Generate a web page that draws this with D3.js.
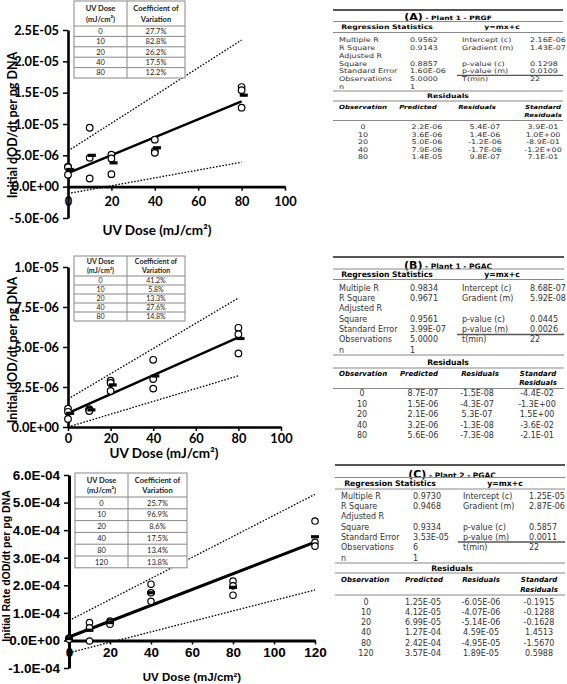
<!DOCTYPE html>
<html><head><meta charset="utf-8">
<script src="https://cdn.jsdelivr.net/npm/d3@7"></script>
<style>body{margin:0;background:#fff} svg{display:block}</style>
</head><body>
<svg id="c" width="567" height="684"></svg>
<script>
// ---------- DATA ----------
// Chart A : Plant 1 - PRGF
const doseA = [0, 10, 20, 40, 80];
const rep1A = [3.2e-6, 9.4e-6, 5.1e-6, 7.5e-6, 15.9e-6];
const rep2A = [3.1e-6, 4.6e-6, 4.5e-6, 5.7e-6, 15.4e-6];
const rep3A = [1.9e-6, 1.3e-6, 2.0e-6, 5.4e-6, 12.6e-6];
const meanA = [2.74e-6, 5.0e-6, 3.8e-6, 6.2e-6, 14.6e-6];
const ciUpperA = [5.7e-6, 23.4e-6];   // at dose 0 and 80
const ciLowerA = [-1.1e-6, 3.9e-6];
const cvA = ["27.7%", "82.8%", "26.2%", "17.5%", "12.2%"];
const yTicksA = [-5e-6, 0, 5e-6, 1e-5, 1.5e-5, 2e-5, 2.5e-5];
const xTicksA = [0, 20, 40, 60, 80, 100];

// Chart B : Plant 1 - PGAC
const doseB = [0, 10, 20, 40, 80];
const rep1B = [1.15e-6, 1.12e-6, 2.9e-6, 4.2e-6, 6.2e-6];
const rep2B = [0.95e-6, 1.05e-6, 2.75e-6, 3.0e-6, 5.8e-6];
const rep3B = [0.5e-6, 1.0e-6, 2.25e-6, 2.4e-6, 4.6e-6];
const meanB = [0.855e-6, 1.07e-6, 2.63e-6, 3.19e-6, 5.53e-6];
const ciUpperB = [1.75e-6, 8.06e-6];
const ciLowerB = [0, 3.2e-6];
const cvB = ["41.2%", "5.8%", "13.3%", "27.6%", "14.8%"];
const yTicksB = [0, 2.5e-6, 5e-6, 7.5e-6, 1e-5];
const xTicksB = [0, 20, 40, 60, 80, 100];

// Chart C : Plant 2 - PGAC
const doseC = [0, 10, 20, 40, 80, 120];
const rep1C = [0.09e-4, 0.65e-4, 0.70e-4, 2.04e-4, 2.15e-4, 4.33e-4];
const rep2C = [0.06e-4, 0.46e-4, 0.65e-4, 1.73e-4, 1.98e-4, 3.56e-4];
const rep3C = [0.04e-4, -0.02e-4, 0.59e-4, 1.42e-4, 1.64e-4, 3.42e-4];
const meanC = [0.0645e-4, 0.37e-4, 0.648e-4, 1.729e-4, 1.925e-4, 3.76e-4];
const ciUpperC = [0.72e-4, 5.3e-4];   // at dose 0 and 120
const ciLowerC = [-0.45e-4, 1.83e-4];
const cvC = ["25.7%", "96.9%", "8.6%", "17.5%", "13.4%", "13.8%"];
const yTicksC = [-1e-4, 0, 1e-4, 2e-4, 3e-4, 4e-4, 5e-4, 6e-4];
const xTicksC = [0, 20, 40, 60, 80, 100, 120];

// Regression tables
const statLabels = ["Multiple R", "R Square", "Adjusted R", "Square", "Standard Error", "Observations", "n"];
const fitLabelsA = ["Intercept (c)", "Gradient (m)", "", "p-value (c)", "p-value (m)", "T(min)", ""];
const fitLabelsBC = ["Intercept (c)", "Gradient (m)", "", "p-value (c)", "p-value (m)", "t(min)", ""];

const statsA = ["0.9562", "0.9143", "", "0.8857", "1.60E-06", "5.0000", "1"];
const fitA = ["2.16E-06", "1.43E-07", "", "0.1298", "0.0109", "22", ""];
const interceptA = 2.16e-6, gradientA = 1.43e-7;
const obsA = ["0", "10", "20", "40", "80"];
const predA = ["2.2E-06", "3.6E-06", "5.0E-06", "7.9E-06", "1.4E-05"];
const residA = ["5.4E-07", "1.4E-06", "-1.2E-06", "-1.7E-06", "9.8E-07"];
const stdResA = ["3.9E-01", "1.0E+00", "-8.9E-01", "-1.2E+00", "7.1E-01"];

const statsB = ["0.9834", "0.9671", "", "0.9561", "3.99E-07", "5.0000", "1"];
const fitB = ["8.68E-07", "5.92E-08", "", "0.0445", "0.0026", "22", ""];
const interceptB = 8.68e-7, gradientB = 5.92e-8;
const obsB = ["0", "10", "20", "40", "80"];
const predB = ["8.7E-07", "1.5E-06", "2.1E-06", "3.2E-06", "5.6E-06"];
const residB = ["-1.5E-08", "-4.3E-07", "5.3E-07", "-1.3E-08", "-7.3E-08"];
const stdResB = ["-4.4E-02", "-1.3E+00", "1.5E+00", "-3.6E-02", "-2.1E-01"];

const statsC = ["0.9730", "0.9468", "", "0.9334", "3.53E-05", "6", "1"];
const fitC = ["1.25E-05", "2.87E-06", "", "0.5857", "0.0011", "22", ""];
const interceptC = 1.25e-5, gradientC = 2.87e-6;
const obsC = ["0", "10", "20", "40", "80", "120"];
const predC = ["1.25E-05", "4.12E-05", "6.99E-05", "1.27E-04", "2.42E-04", "3.57E-04"];
const residC = ["-6.05E-06", "-4.07E-06", "-5.14E-06", "4.59E-05", "-4.95E-05", "1.89E-05"];
const stdResC = ["-0.1915", "-0.1288", "-0.1628", "1.4513", "-1.5670", "0.5988"];

// ---------- DRAWING ----------
const svg = d3.select("#c");

function fmtE(v) {
  const s = v.toExponential(1);
  const [m, e] = s.split("e");
  const n = +e;
  return m + "E" + (n < 0 ? "-" : "+") + String(Math.abs(n)).padStart(2, "0");
}

function drawChart(c) {
  const g = svg.append("g");
  const x = d3.scaleLinear().domain([c.xTicks[0], c.xTicks[c.xTicks.length - 1]]).range(c.xr);
  const y = d3.scaleLinear().domain([c.yTicks[0], c.yTicks[c.yTicks.length - 1]]).range(c.yr);

  // y axis
  const ya = g.append("g").attr("transform", `translate(${c.xr[0]},0)`)
    .call(d3.axisLeft(y).tickValues(c.yTicks).tickFormat(fmtE).tickSize(5).tickSizeOuter(0).tickPadding(4));
  ya.select(".domain").attr("stroke", "#000").attr("stroke-width", c.axW);
  ya.selectAll(".tick line").attr("stroke", "#000").attr("stroke-width", 1.5);
  ya.selectAll("text").attr("font-family", c.tickFont).attr("font-weight", "bold")
    .attr("font-size", c.tickSize).attr("fill", "#000");

  // x axis at y=0
  const xa = g.append("g").attr("transform", `translate(0,${y(0)})`)
    .call(d3.axisBottom(x).tickValues(c.xTicks).tickFormat(d3.format("d")).tickSize(4).tickSizeOuter(0).tickPadding(c.xPad));
  xa.select(".domain").attr("stroke", "#000").attr("stroke-width", c.axW);
  xa.selectAll(".tick line").attr("stroke", "#000").attr("stroke-width", 1.5);
  xa.selectAll("text").attr("font-family", c.tickFont).attr("font-weight", "bold")
    .attr("font-size", c.tickSize).attr("fill", "#000");

  // titles
  g.append("text").attr("x", c.xTitle[0]).attr("y", c.xTitle[1]).attr("text-anchor", "middle")
    .attr("font-family", c.titleFont).attr("font-weight", "bold").attr("font-size", c.titleSize)
    .text("UV Dose (mJ/cm²)");
  g.append("text").attr("transform", `translate(${c.yTitle[0]},${c.yTitle[1]}) rotate(-90)`)
    .attr("text-anchor", "middle").attr("dy", "0.35em")
    .attr("font-family", c.titleFont).attr("font-weight", "bold").attr("font-size", c.yTitleSize)
    .text(c.yLabel);

  // confidence lines (dotted)
  const line = d3.line().x(d => x(d[0])).y(d => y(d[1]));
  const xe = c.fitEnd;
  [c.ciU, c.ciL].forEach(ci => {
    g.append("path").datum([[0, ci[0]], [xe, ci[1]]]).attr("d", line)
      .attr("fill", "none").attr("stroke", "#000").attr("stroke-width", 1.3).attr("stroke-dasharray", "1.6,1.6");
  });
  // regression line
  g.append("path").datum([[0, c.icpt], [xe, c.icpt + c.grad * xe]]).attr("d", line)
    .attr("fill", "none").attr("stroke", "#000").attr("stroke-width", c.fitW);

  // replicate points
  c.reps.forEach(rep => {
    g.selectAll(null).data(rep).enter().append("circle")
      .attr("cx", (d, i) => x(c.dose[i])).attr("cy", d => y(d)).attr("r", c.r)
      .attr("fill", "#fff").attr("stroke", "#000").attr("stroke-width", 1.2);
  });
  // means
  g.selectAll(null).data(c.mean).enter().append("rect")
    .attr("x", (d, i) => x(c.dose[i] + c.meanOff) - 4).attr("y", d => y(d) - 1.6)
    .attr("width", 8).attr("height", 3.2).attr("fill", "#000");

  // inset CV table
  const t = c.inset;
  const ig = g.append("g").attr("font-family", "Lato, 'Liberation Sans', sans-serif");
  ig.append("rect").attr("x", t.x0).attr("y", t.y0).attr("width", t.x1 - t.x0)
    .attr("height", t.hH + t.rH * c.cv.length).attr("fill", "#fff").attr("stroke", "#888").attr("stroke-width", 1);
  ig.append("line").attr("x1", t.xd).attr("x2", t.xd).attr("y1", t.y0)
    .attr("y2", t.y0 + t.hH + t.rH * c.cv.length).attr("stroke", "#888");
  c.cv.forEach((v, i) => {
    const yy = t.y0 + t.hH + t.rH * i;
    ig.append("line").attr("x1", t.x0).attr("x2", t.x1).attr("y1", yy).attr("y2", yy).attr("stroke", "#888");
    ig.append("text").attr("x", (t.x0 + t.xd) / 2).attr("y", yy + t.rH / 2).attr("dy", "0.35em")
      .attr("text-anchor", "middle").attr("font-size", t.fs).attr("fill", "#222").text(c.dose[i]);
    ig.append("text").attr("x", (t.xd + t.x1) / 2).attr("y", yy + t.rH / 2).attr("dy", "0.35em")
      .attr("text-anchor", "middle").attr("font-size", t.fs).attr("fill", "#222").text(v);
  });
  const hy1 = t.y0 + t.hH * 0.3, hy2 = t.y0 + t.hH * 0.72;
  [["UV Dose", hy1, (t.x0 + t.xd) / 2], ["(mJ/cm²)", hy2, (t.x0 + t.xd) / 2],
   ["Coefficient of", hy1, (t.xd + t.x1) / 2], ["Variation", hy2, (t.xd + t.x1) / 2]].forEach(h => {
    ig.append("text").attr("x", h[2]).attr("y", h[1]).attr("dy", "0.35em").attr("text-anchor", "middle")
      .attr("font-size", t.fs).attr("font-weight", "bold").attr("fill", "#222").text(h[0]);
  });
}

drawChart({
  dose: doseA, reps: [rep1A, rep2A, rep3A], mean: meanA, meanOff: 1, cv: cvA,
  ciU: ciUpperA, ciL: ciLowerA, icpt: interceptA, grad: gradientA, fitEnd: 80,
  xTicks: xTicksA, yTicks: yTicksA, xr: [68, 285], yr: [218, 30],
  axW: 2.6, fitW: 2.4, r: 3.3, xPad: 6,
  tickFont: "Lato, sans-serif", tickSize: 12.8, titleFont: "Lato, sans-serif", titleSize: 13.5, yTitleSize: 12.5,
  xTitle: [157, 235], yTitle: [13, 125], yLabel: "Initial dOD/dt per pg DNA",
  inset: { x0: 74, x1: 185, xd: 127, y0: 1, hH: 25, rH: 10.4, fs: 7.5 }
});
drawChart({
  dose: doseB, reps: [rep1B, rep2B, rep3B], mean: meanB, meanOff: 1, cv: cvB,
  ciU: ciUpperB, ciL: ciLowerB, icpt: interceptB, grad: gradientB, fitEnd: 80,
  xTicks: xTicksB, yTicks: yTicksB, xr: [68, 281], yr: [427, 267],
  axW: 2.6, fitW: 2.4, r: 3.3, xPad: 3,
  tickFont: "Lato, sans-serif", tickSize: 12.8, titleFont: "Lato, sans-serif", titleSize: 13.5, yTitleSize: 12.5,
  xTitle: [164, 458], yTitle: [13, 350], yLabel: "Initial dOD/dt per pg DNA",
  inset: { x0: 74, x1: 185, xd: 127, y0: 256, hH: 20, rH: 9, fs: 7 }
});
drawChart({
  dose: doseC, reps: [rep1C, rep2C, rep3C], mean: meanC, meanOff: 0, cv: cvC,
  ciU: ciUpperC, ciL: ciLowerC, icpt: interceptC, grad: gradientC, fitEnd: 120,
  xTicks: xTicksC, yTicks: yTicksC, xr: [69, 315], yr: [668, 475],
  axW: 3, fitW: 3, r: 3.2, xPad: 3,
  tickFont: "'Liberation Sans', Arial, sans-serif", tickSize: 13.5, titleFont: "'Liberation Sans', Arial, sans-serif", titleSize: 11.5, yTitleSize: 10.5,
  xTitle: [192, 681], yTitle: [6, 566], yLabel: "Initial Rate dOD/dt per pg DNA",
  inset: { x0: 75, x1: 187, xd: 128, y0: 473, hH: 24, rH: 11.8, fs: 7.5 }
});

// ---------- REGRESSION TABLES ----------
function drawTable(T) {
  const g = svg.append("g").attr("font-family", "'DejaVu Sans', sans-serif").attr("fill", "#333");
  const fs = T.fs, sy = T.sy;
  const txt = (x, y, s, o = {}) => g.append("text").attr("transform", `translate(${x},${y}) scale(1,${sy})`)
    .attr("dy", "0.35em")
    .attr("text-anchor", o.a || "start").attr("font-size", o.fs || fs)
    .attr("font-weight", o.b ? "bold" : null).attr("font-style", o.i ? "italic" : null)
    .attr("fill", o.c || "#333").text(s);
  const hl = (y, x0, x1, w, col) => g.append("line").attr("x1", x0).attr("x2", x1).attr("y1", y).attr("y2", y)
    .attr("stroke", col).attr("stroke-width", w);

  hl(T.top, T.x0, T.x1, 2, "#555");
  // title
  const tt = g.append("text").attr("transform", `translate(${T.titleX},${T.titleY}) scale(1,${sy})`)
    .attr("dy", "0.35em").attr("text-anchor", "middle")
    .attr("font-weight", "bold").attr("fill", "#000");
  tt.append("tspan").attr("font-size", 11).text(T.letter);
  tt.append("tspan").attr("font-size", 7.5).text(" - " + T.name);
  hl(T.l1, T.x0, T.x1, 1, "#888");
  txt(T.rsX, T.headY, "Regression Statistics", { a: "middle", b: true, c: "#000", fs: fs - 0.3 });
  txt(T.ymX, T.headY, "y=mx+c", { a: "middle", b: true, c: "#000", fs: fs - 0.3 });
  hl(T.l2, T.x0, T.x1, 1, "#888");
  statLabels.forEach((s, i) => {
    txt(T.c1, T.rows[i], s);
    txt(T.c2, T.rows[i], T.stats[i]);
    txt(T.c3, T.rows[i], T.fitL[i]);
    txt(T.c4, T.rows[i], T.fit[i]);
  });
  hl(T.ul, T.ulx, T.x1, 1.3, "#555");
  hl(T.l3, T.x0, T.x1, 1, "#888");
  txt(T.titleX, T.resY, "Residuals", { a: "middle", b: true, c: "#000", fs: fs - 0.3 });
  hl(T.l4, T.x0, T.x1, 1, "#888");
  const hf = fs - 1;
  txt(T.c1, T.h1, "Observation", { b: true, i: true, c: "#000", fs: hf });
  txt(T.hPred, T.h1, "Predicted", { a: "middle", b: true, i: true, c: "#000", fs: hf });
  txt(T.hRes, T.h1, "Residuals", { a: "middle", b: true, i: true, c: "#000", fs: hf });
  txt(T.hStd, T.h1, "Standard", { a: "middle", b: true, i: true, c: "#000", fs: hf });
  txt(T.hStd, T.h2, "Residuals", { a: "middle", b: true, i: true, c: "#000", fs: hf });
  hl(T.l5, T.x0, T.x1, 1, "#888");
  T.obs.forEach((o, i) => {
    txt(T.dObs, T.data[i], o, { a: "middle" });
    txt(T.dPred, T.data[i], T.pred[i], { a: "middle" });
    txt(T.dRes, T.data[i], T.res[i], { a: "middle" });
    txt(T.dStd, T.data[i], T.std[i], { a: "middle" });
  });
}

drawTable({
  letter: "(A)", name: "Plant 1 - PRGF", stats: statsA, fitL: fitLabelsA, fit: fitA,
  obs: obsA, pred: predA, res: residA, std: stdResA, fs: 8, sy: 0.8,
  x0: 333, x1: 563, top: 10, titleX: 448, titleY: 15.5, l1: 21.5, headY: 27, l2: 32.5,
  rsX: 387, ymX: 502, rows: [40, 47.8, 55.6, 63.4, 71.2, 79, 86.8], ul: 75.3, ulx: 457,
  l3: 91, resY: 96, l4: 101, h1: 107, h2: 115, l5: 120.5, data: [127, 134.5, 142, 149.5, 157],
  c1: 339, c2: 410, c3: 462, c4: 530, hPred: 418, hRes: 477, hStd: 543,
  dObs: 363, dPred: 427, dRes: 485, dStd: 543
});
drawTable({
  letter: "(B)", name: "Plant 1 - PGAC", stats: statsB, fitL: fitLabelsBC, fit: fitB,
  obs: obsB, pred: predB, res: residB, std: stdResB, fs: 8, sy: 1.0,
  x0: 333, x1: 564, top: 257, titleX: 448, titleY: 263, l1: 269, headY: 274.5, l2: 279.5,
  rsX: 387, ymX: 502, rows: [288, 298.3, 308.6, 319, 329.3, 339.6, 350], ul: 334.5, ulx: 457,
  l3: 355, resY: 362, l4: 368, h1: 373.5, h2: 383, l5: 388.5, data: [393.5, 404, 414.5, 425, 435],
  c1: 339, c2: 410, c3: 462, c4: 530, hPred: 419, hRes: 480, hStd: 538,
  dObs: 362, dPred: 423, dRes: 477, dStd: 537
});
drawTable({
  letter: "(C)", name: "Plant 2 - PGAC", stats: statsC, fitL: fitLabelsBC, fit: fitC,
  obs: obsC, pred: predC, res: residC, std: stdResC, fs: 8, sy: 1.0,
  x0: 335, x1: 565, top: 465, titleX: 452, titleY: 472, l1: 477.5, headY: 483.5, l2: 489,
  rsX: 390, ymX: 505, rows: [496, 506.3, 516.6, 527, 537.3, 547.6, 558], ul: 542, ulx: 458,
  l3: 563, resY: 568.5, l4: 573, h1: 580, h2: 590, l5: 595, data: [602, 612.2, 622.4, 632.6, 642.8, 653],
  c1: 341, c2: 413, c3: 463, c4: 529, hPred: 424, hRes: 481, hStd: 539,
  dObs: 366, dPred: 423, dRes: 481, dStd: 539
});
</script>
</body></html>
